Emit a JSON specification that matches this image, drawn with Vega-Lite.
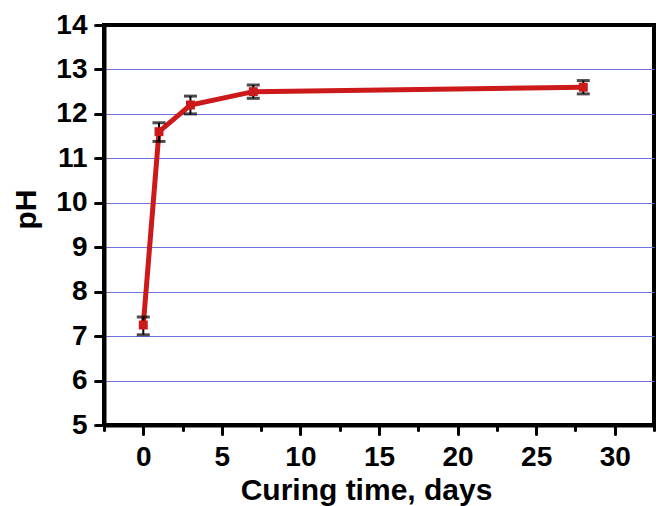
{
  "$schema": "https://vega.github.io/schema/vega-lite/v6.json",
  "width": 550,
  "height": 400,
  "autosize": {"type": "none"},
  "padding": {"left": 104, "top": 25, "right": 8, "bottom": 81},
  "background": "white",
  "data": {
    "values": [
      {"day": 0, "ph": 7.25, "lo": 7.03, "hi": 7.43},
      {"day": 1, "ph": 11.6, "lo": 11.38, "hi": 11.8},
      {"day": 3, "ph": 12.2, "lo": 12.0, "hi": 12.4},
      {"day": 7, "ph": 12.5, "lo": 12.35, "hi": 12.65},
      {"day": 28, "ph": 12.6, "lo": 12.45, "hi": 12.75}
    ]
  },
  "encoding": {
    "x": {
      "field": "day",
      "type": "quantitative",
      "scale": {"domain": [-2.5, 32.5], "nice": false, "zero": false},
      "axis": {
        "title": "Curing time, days",
        "values": [-2.5, 0, 2.5, 5, 7.5, 10, 12.5, 15, 17.5, 20, 22.5, 25, 27.5, 30, 32.5],
        "labelExpr": "datum.value % 5 === 0 ? datum.label : ''",
        "tickSize": {"condition": {"test": "datum.value % 5 === 0", "value": 9}, "value": 5},
        "grid": false,
        "labelPadding": 9,
        "titlePadding": 4,
        "titleX": 262
      }
    }
  },
  "layer": [
    {
      "mark": {"type": "line", "color": "#cc1a1a", "strokeWidth": 5},
      "encoding": {
        "y": {
          "field": "ph",
          "type": "quantitative",
          "scale": {"domain": [5, 14], "nice": false, "zero": false},
          "axis": {
            "title": "pH",
            "values": [5, 5.5, 6, 6.5, 7, 7.5, 8, 8.5, 9, 9.5, 10, 10.5, 11, 11.5, 12, 12.5, 13, 13.5, 14],
            "labelExpr": "datum.value % 1 === 0 ? datum.label : ''",
            "tickSize": {"condition": {"test": "datum.value % 1 === 0", "value": 9}, "value": 5},
            "grid": true,
            "gridColor": "#7070e0",
            "gridWidth": 1.2,
            "gridOpacity": {"condition": {"test": "datum.value % 1 === 0 && datum.value > 5 && datum.value < 14", "value": 1}, "value": 0},
            "labelPadding": 8,
            "titlePadding": 14,
            "titleY": 184
          }
        }
      }
    },
    {
      "mark": {"type": "rule", "color": "black", "strokeWidth": 2},
      "encoding": {
        "y": {"field": "lo", "type": "quantitative"},
        "y2": {"field": "hi"}
      }
    },
    {
      "mark": {"type": "tick", "orient": "horizontal", "color": "black", "size": 13, "thickness": 3},
      "encoding": {"y": {"field": "lo", "type": "quantitative"}}
    },
    {
      "mark": {"type": "tick", "orient": "horizontal", "color": "black", "size": 13, "thickness": 3},
      "encoding": {"y": {"field": "hi", "type": "quantitative"}}
    },
    {
      "mark": {"type": "square", "color": "#cc1a1a", "filled": true, "opacity": 1, "size": 80},
      "encoding": {"y": {"field": "ph", "type": "quantitative"}}
    }
  ],
  "config": {
    "view": {"stroke": "black", "strokeWidth": 4},
    "font": "Liberation Sans",
    "axis": {
      "domainColor": "black",
      "domainWidth": 4,
      "tickColor": "black",
      "tickWidth": 3,
      "tickCap": "round",
      "labelFont": "Liberation Sans",
      "labelFontSize": 28,
      "labelFontWeight": "bold",
      "labelColor": "black",
      "titleFont": "Liberation Sans",
      "titleFontSize": 30,
      "titleFontWeight": "bold",
      "titleColor": "black"
    }
  }
}
